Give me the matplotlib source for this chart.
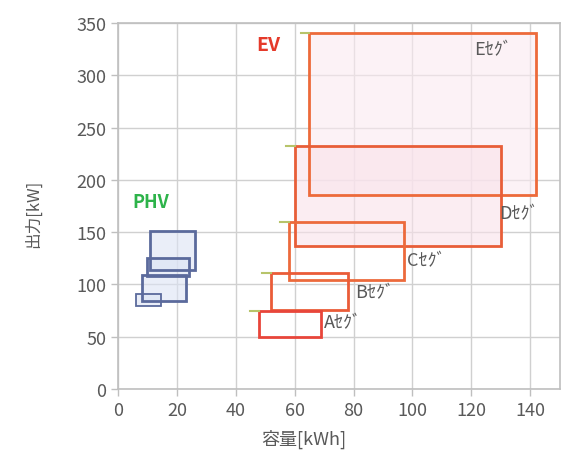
import matplotlib.pyplot as plt
from matplotlib.patches import Rectangle

plt.rcParams['font.family'] = ['Noto Sans CJK JP', 'DejaVu Sans']

# EV segments: (x0, x1) capacity kWh, (y0, y1) output kW
ev_names = ["Eｾｸﾞ", "Dｾｸﾞ", "Cｾｸﾞ", "Bｾｸﾞ", "Aｾｸﾞ"]
ev_x = [(65, 142), (60, 130), (58, 97), (52, 78), (48, 69)]
ev_y = [(186, 340), (137, 232), (104, 160), (76, 111), (50, 75)]
ev_label_pos = [(121, 325), (129.5, 168), (98, 123), (80.5, 93), (70, 64)]

# PHV vehicles
phv_x = [(11, 26), (10, 24), (8, 23), (6, 14.5)]
phv_y = [(114, 151), (108, 125), (84, 109), (79, 91)]

fig = plt.figure(figsize=(5.85, 4.52), dpi=100)
ax = fig.add_axes([0.2017, 0.137, 0.755, 0.81])

ev_edge = ["#ED6A3A", "#E85E38", "#EC6A3C", "#EA5C38", "#E8453A"]
ev_fill = ["#FBEAF0", "#F9E2EA", "#FFFFFF", "#FFFFFF", "#FFFFFF"]
ev_alpha = [0.6, 0.6, 0.0, 0.0, 0.0]

for i in range(len(ev_names)):
    (x0, x1), (y0, y1) = ev_x[i], ev_y[i]
    if ev_alpha[i] > 0:
        ax.add_patch(Rectangle((x0, y0), x1 - x0, y1 - y0, facecolor=ev_fill[i],
                               alpha=ev_alpha[i], edgecolor="none", zorder=2))
    ax.add_patch(Rectangle((x0, y0), x1 - x0, y1 - y0, facecolor="none",
                           edgecolor=ev_edge[i], lw=2, zorder=3))
    # small olive tick at the top-left corner
    ax.plot([x0 - 3, x0], [y1, y1], color="#B7C46A", lw=1.5, zorder=3)
    lx, ly = ev_label_pos[i]
    ax.text(lx, ly, ev_names[i], fontsize=13, color="#595959", va="center", ha="left", zorder=4)

for i in range(len(phv_x)):
    (x0, x1), (y0, y1) = phv_x[i], phv_y[i]
    ax.add_patch(Rectangle((x0, y0), x1 - x0, y1 - y0, facecolor="#DCE4F4",
                           alpha=0.6, edgecolor="none", zorder=2))
    ax.add_patch(Rectangle((x0, y0), x1 - x0, y1 - y0, facecolor="none",
                           edgecolor="#5B6A9C", lw=2 if i < 3 else 1.3, zorder=3))

ax.text(47, 329, "EV", color="#E53A2A", fontsize=14, fontweight="bold", va="center", ha="left")
ax.text(5, 179, "PHV", color="#2DB34A", fontsize=13, fontweight="bold", va="center", ha="left")

ax.set_xlim(0, 150)
ax.set_ylim(0, 350)
ax.set_xticks(range(0, 141, 20))
ax.set_yticks(range(0, 351, 50))
ax.grid(True, color="#D0D0D0", lw=1)
ax.set_axisbelow(True)
for s in ax.spines.values():
    s.set_color("#BFBFBF")
    s.set_linewidth(1.2)
ax.tick_params(colors="#BFBFBF", labelcolor="#595959", labelsize=13, length=5, width=1)

ax.set_xlabel("容量[kWh]", fontsize=13, color="#595959", labelpad=0)
ax.xaxis.set_label_coords(0.42, -0.108)
ax.set_ylabel("出力[kW]", fontsize=12, color="#595959")
ax.yaxis.set_label_coords(-0.172, 0.48)

fig.savefig("out.png", dpi=100)
